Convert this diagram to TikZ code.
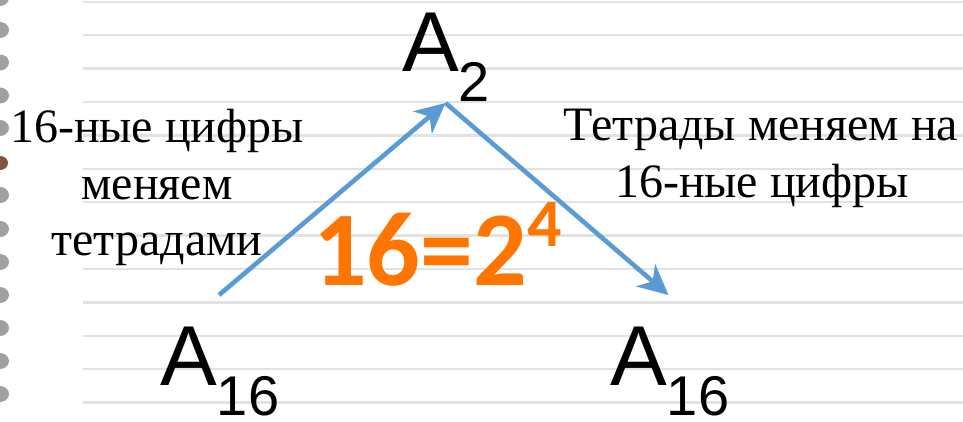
\documentclass[tikz,border=0pt]{standalone}
\usepackage{fontspec}
\setmainfont{Liberation Serif}
\newfontfamily\arialf{Liberation Sans}
\newfontfamily\calibrif{Carlito}
\usetikzlibrary{arrows.meta}
\definecolor{arrowblue}{HTML}{5B9BD5}
\definecolor{eqorange}{RGB}{255,117,0}
\definecolor{ruleline}{RGB}{226,226,226}
\definecolor{holegray}{RGB}{160,160,160}
\definecolor{holebrown}{RGB}{125,85,65}
\tikzset{
  ruled/.style={draw=ruleline, line width=2.4pt},
  hole/.style={fill=holegray, draw=none},
  bigA/.style={inner sep=0pt, anchor=base west, font=\arialf\fontsize{85}{85}\selectfont},
  serifline/.style={inner sep=0pt, anchor=base, font=\fontsize{48}{56}\selectfont},
  eqtext/.style={inner sep=0pt, anchor=base west, text=eqorange, font=\calibrif\bfseries\fontsize{106}{106}\selectfont},
  conv/.style={draw=arrowblue, line width=4.6pt, -{Stealth[length=30pt,width=29pt,inset=9pt]}}
}
\newcommand{\subsc}[1]{\raisebox{-30pt}{\fontsize{56}{56}\selectfont #1}}
\begin{document}
\begin{tikzpicture}[x=1pt,y=-1pt]
\useasboundingbox[fill=white] (0,0) rectangle (963,421);
% ruled lines
\foreach \k in {0,...,12} {
  \draw[ruled] (83,{1.7+33.4*\k}) -- (963,{1.7+33.4*\k});
}
% binding holes
\foreach \yy in {-2,30,62.5,95.5,128,195,229,262,295,328,361,394} {
  \fill[hole] (0,\yy) ellipse [x radius=9, y radius=8];
}
\fill[holebrown] (0,163) ellipse [x radius=8, y radius=7];
% labels
\node[bigA] (atop) at (402,71) {A\subsc{2}};
\node[bigA] (aleft) at (160,385) {A\subsc{16}};
\node[bigA] (aright) at (610,385) {A\subsc{16}};
% left text
\node[serifline] (l1) at (157,142) {16-ные цифры};
\node[serifline] (l2) at (157,199) {меняем};
\node[serifline] (l3) at (157,255) {тетрадами};
% right text
\node[serifline] (r1) at (761,140) {Тетрады меняем на};
\node[serifline] (r2) at (762,197) {16-ные цифры};
% equation
\node[eqtext] (eq) at (313,285) {16=2\raisebox{39pt}{\fontsize{68}{68}\selectfont 4}};
% arrows
\coordinate (p1) at (219,295);
\coordinate (p2) at (445.5,103);
\coordinate (p3) at (668.5,295);
\draw[conv] (p1) -- (p2);
\draw[conv] (p2) -- (p3);
\end{tikzpicture}
\end{document}
